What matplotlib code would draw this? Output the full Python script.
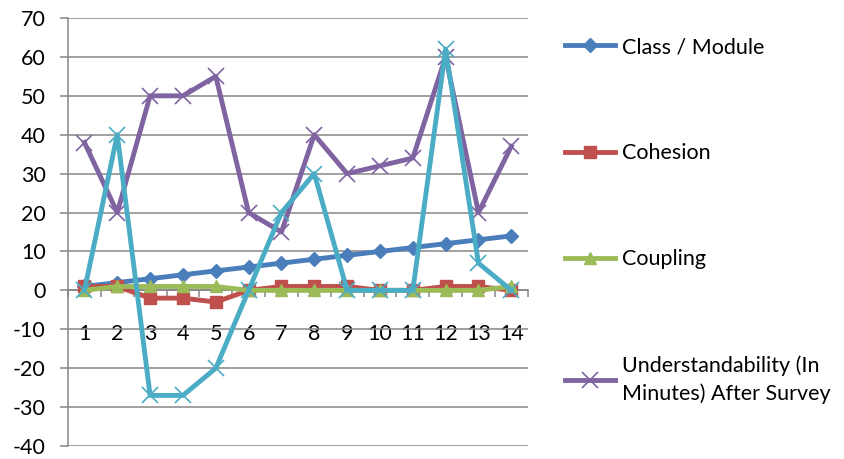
import matplotlib.pyplot as plt
from matplotlib.ticker import FixedLocator

plt.rcParams['font.family'] = ['Lato', 'DejaVu Sans']
plt.rcParams['axes.unicode_minus'] = False

# data
items = [1, 2, 3, 4, 5, 6, 7, 8, 9, 10, 11, 12, 13, 14]
class_module = [1, 2, 3, 4, 5, 6, 7, 8, 9, 10, 11, 12, 13, 14]
cohesion = [1, 1, -2, -2, -3, 0, 1, 1, 1, 0, 0, 1, 1, 0]
coupling = [0, 1, 1, 1, 1, 0, 0, 0, 0, 0, 0, 0, 0, 1]
after_survey = [38, 20, 50, 50, 55, 20, 15, 40, 30, 32, 34, 60, 20, 37]
before_survey = [0, 40, -27, -27, -20, 0, 20, 30, 0, 0, 0, 62, 7, 0]

fs = 15.5

fig = plt.figure(figsize=(8.45, 4.59), dpi=100)
ax = fig.add_axes([0.0805, 13 / 459, 0.544, 428 / 459])

lw = 3.5
ax.plot(items, class_module, color='#4A7EBB', lw=lw, marker='D', ms=7,
        label='Class / Module', zorder=3)
ax.plot(items, cohesion, color='#C0504D', lw=lw, marker='s', ms=8,
        label='Cohesion', zorder=3)
ax.plot(items, coupling, color='#9BBB59', lw=lw, marker='^', ms=8,
        label='Coupling', zorder=3)
ax.plot(items, after_survey, color='#8064A2', lw=lw, marker='x', ms=11, mew=1.2,
        label='Understandability (In\nMinutes) After Survey', zorder=3)
ax.plot(items, before_survey, color='#4BACC6', lw=lw, marker='x', ms=11, mew=1.2,
        label='_nolegend_', zorder=3)

ax.set_xlim(0.5, 14.5)
ax.set_ylim(-40, 70)
ax.set_yticks(range(-40, 71, 10))
ax.yaxis.grid(True, color='#868686', lw=1.1)
ax.set_axisbelow(True)

for s in ['top', 'right']:
    ax.spines[s].set_visible(False)
ax.spines['left'].set_color('#868686')
ax.spines['left'].set_linewidth(1.1)
ax.spines['bottom'].set_position(('data', 0))
ax.spines['bottom'].set_color('#868686')
ax.spines['bottom'].set_linewidth(1.1)

ax.set_xticks(items)
ax.xaxis.set_minor_locator(FixedLocator([i + 0.5 for i in range(0, 15)]))
ax.tick_params(axis='x', which='major', length=0, pad=24, labelsize=fs)
ax.tick_params(axis='x', which='minor', length=5, color='#868686', width=1.1)
ax.tick_params(axis='y', length=6, color='#868686', width=1.1, labelsize=fs, pad=10)

leg = fig.legend(loc='upper left', bbox_to_anchor=(565 / 845, 1 - 37 / 459), frameon=False,
                 fontsize=fs, labelspacing=4.0, handlelength=2.3, handletextpad=0.33,
                 borderpad=0, borderaxespad=0)
for t in leg.get_texts():
    t.set_linespacing(1.45)

fig.savefig('out.png', dpi=100)
